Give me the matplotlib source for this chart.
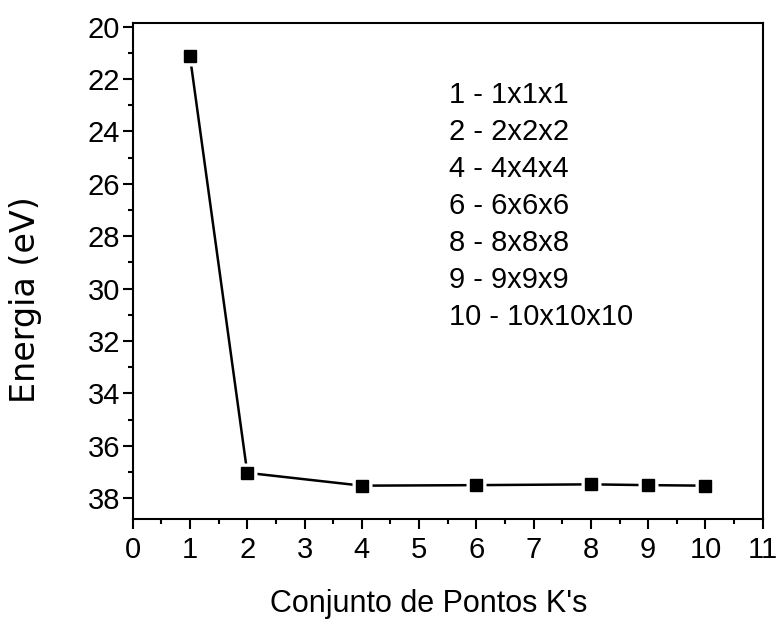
import matplotlib
matplotlib.use("Agg")
import matplotlib.pyplot as plt
from matplotlib.ticker import MultipleLocator

# k-point sets and total energy (axis shown inverted, as in the original)
kpoints = [1, 2, 4, 6, 8, 9, 10]
energy = [21.14, 37.03, 37.52, 37.50, 37.47, 37.50, 37.52]
legend_lines = ["1 - 1x1x1", "2 - 2x2x2", "4 - 4x4x4", "6 - 6x6x6",
                "8 - 8x8x8", "9 - 9x9x9", "10 - 10x10x10"]

plt.rcParams["font.family"] = ["Liberation Sans", "DejaVu Sans"]

fig = plt.figure(figsize=(7.77, 6.2), dpi=100)
ax = fig.add_axes([0.1708, 0.163, 0.8108, 0.8004])

# line, then white squares to open a small gap, then the black markers
ax.plot(kpoints, energy, color="black", lw=1.8, zorder=2)
ax.plot(kpoints, energy, ls="none", marker="s", ms=14,
        markerfacecolor="white", markeredgecolor="none", zorder=3)
ax.plot(kpoints, energy, ls="none", marker="s", ms=8,
        markerfacecolor="black", markeredgecolor="black", zorder=4)

ax.set_xlim(0, 11)
ax.set_ylim(38.79, 19.85)
ax.xaxis.set_major_locator(MultipleLocator(1))
ax.xaxis.set_minor_locator(MultipleLocator(0.5))
ax.yaxis.set_major_locator(MultipleLocator(2))
ax.yaxis.set_minor_locator(MultipleLocator(1))
ax.tick_params(which="both", direction="out", width=1.5, top=False, right=False,
               labelsize=21)
ax.tick_params(which="major", length=7)
ax.tick_params(which="minor", length=3.6)
ax.tick_params(axis="x", pad=5)
ax.tick_params(axis="y", pad=2)
for sp in ax.spines.values():
    sp.set_linewidth(1.5)

# axis titles placed like the original (slightly off-centre);
# the y title is drawn wide in the original, DejaVu gets closer to that
fig.text(0.3475, 0.0134, "Conjunto de Pontos K's", fontsize=22,
         ha="left", va="baseline")
fig.text(0.045, 0.516, "Energia (eV)", fontsize=24, rotation=90,
         rotation_mode="anchor", ha="center", va="baseline",
         family="DejaVu Sans")

ax.text(0.502, 0.8825, "\n".join(legend_lines), transform=ax.transAxes,
        fontsize=21, va="top", ha="left", linespacing=1.41)

fig.savefig("out.png", dpi=100)
